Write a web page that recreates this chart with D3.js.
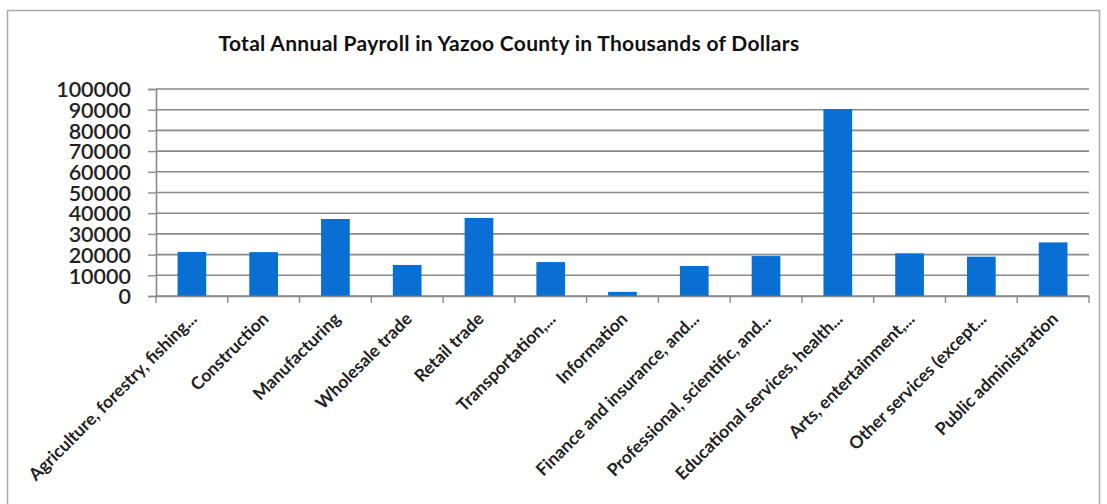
<!DOCTYPE html>
<html><head><meta charset="utf-8">
<script src="https://cdn.jsdelivr.net/npm/d3@7"></script>
<style>body{margin:0;background:#fff;} svg{display:block;}</style>
</head><body>
<svg id="c" width="1107" height="504"></svg>
<script>
const categories = ["Agriculture, forestry, fishing...","Construction","Manufacturing","Wholesale trade","Retail trade","Transportation,...","Information","Finance and insurance, and...","Professional, scientific, and...","Educational services, health...","Arts, entertainment,...","Other services (except...","Public administration"];
const values = [21300,21200,37200,15000,37700,16400,2000,14500,19300,90300,20600,19000,25900];
const yTicks = [0,10000,20000,30000,40000,50000,60000,70000,80000,90000,100000];
const title = "Total Annual Payroll in Yazoo County in Thousands of Dollars";

const svg = d3.select("#c");
const font = "Lato, 'Open Sans', sans-serif";
// chart border
svg.append("rect").attr("x",7.5).attr("y",10.5).attr("width",1092).attr("height",500)
  .attr("fill","none").attr("stroke","#aaa").attr("stroke-width",1.5);

const m = {l:156, r:1089, t:89, b:296};
const xb = d3.scaleBand().domain(categories).range([m.l,m.r]);
const y = d3.scaleLinear().domain([0,100000]).range([m.b,m.t]);

// gridlines
svg.append("g").selectAll("line").data(yTicks).join("line")
  .attr("x1",m.l).attr("x2",m.r).attr("y1",d=>y(d)).attr("y2",d=>y(d))
  .attr("stroke","#8a8a8a").attr("stroke-width",1.6);

// bars
svg.append("g").selectAll("rect").data(values).join("rect")
  .attr("x",(d,i)=>xb(categories[i]) + xb.bandwidth()*0.3)
  .attr("width",xb.bandwidth()*0.4)
  .attr("y",d=>y(d)).attr("height",d=>y(0)-y(d))
  .attr("fill","#0a6fd3");

// y axis
const ya = svg.append("g").attr("transform",`translate(${m.l},0)`)
  .call(d3.axisLeft(y).tickValues(yTicks).tickSize(8).tickFormat(d3.format("d")));
ya.select(".domain").attr("stroke","#8a8a8a").attr("stroke-width",1.6);
ya.selectAll(".tick line").attr("stroke","#8a8a8a").attr("stroke-width",1.4);
ya.selectAll("text").attr("font-family",font).attr("font-size",21.5).attr("font-weight",600)
  .attr("fill","#222").attr("x",-25).attr("dy","0.36em");

// x axis
const xa = svg.append("g").attr("transform",`translate(0,${m.b})`)
  .call(d3.axisBottom(xb).tickSize(0).tickFormat(""));
xa.select(".domain").attr("stroke","#8a8a8a").attr("stroke-width",1.6);
const bounds = categories.map(c=>xb(c)).concat([m.r]);
svg.append("g").selectAll("line").data(bounds).join("line")
  .attr("x1",d=>d).attr("x2",d=>d).attr("y1",m.b).attr("y2",m.b+7)
  .attr("stroke","#8a8a8a").attr("stroke-width",1.4);
svg.append("g").selectAll("text").data(categories).join("text")
  .attr("transform",d=>`translate(${xb(d)+xb.bandwidth()/2+6},${m.b+24}) rotate(-45)`)
  .attr("text-anchor","end").attr("font-family",font).attr("font-size",17.5).attr("font-weight",700)
  .attr("fill","#222").text(d=>d);

// title
svg.append("text").attr("x",509).attr("y",51).attr("text-anchor","middle")
  .attr("font-family",font).attr("font-size",21).attr("letter-spacing",0.3).attr("font-weight",700).attr("fill","#111").text(title);
</script>
</body></html>
